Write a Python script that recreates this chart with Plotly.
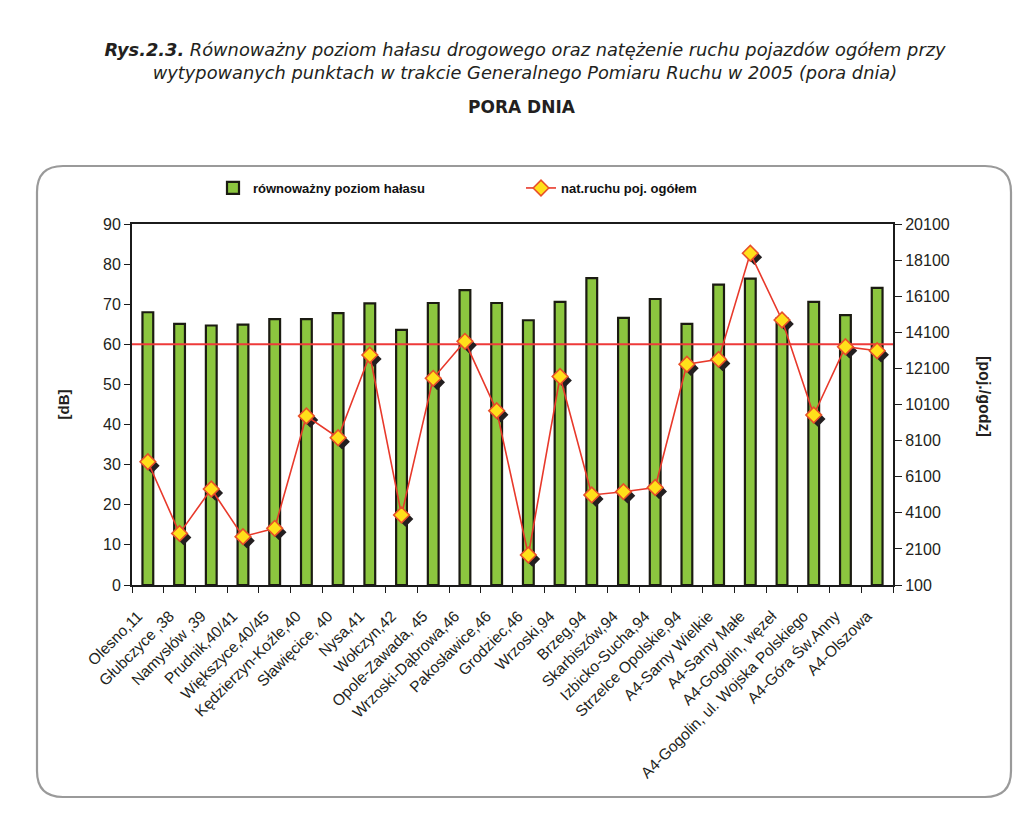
import plotly.graph_objects as go

# ---------------- data ----------------
categories = ["Olesno,11", "Głubczyce ,38", "Namysłów ,39", "Prudnik,40/41",
              "Większyce,40/45", "Kędzierzyn-Koźle,40", "Sławięcice, 40", "Nysa,41",
              "Wołczyn,42", "Opole-Zawada, 45", "Wrzoski-Dąbrowa,46", "Pakosławice,46",
              "Grodziec,46", "Wrzoski,94", "Brzeg,94", "Skarbiszów,94",
              "Izbicko-Sucha,94", "Strzelce Opolskie,94", "A4-Sarny Wielkie", "A4-Sarny Małe",
              "A4-Gogolin, węzeł", "A4-Gogolin, ul. Wojska Polskiego", "A4-Góra Św.Anny", "A4-Olszowa"]

noise_db = [68.0, 65.1, 64.7, 64.9, 66.3, 66.3, 67.8, 70.2,
            63.6, 70.3, 73.5, 70.3, 66.0, 70.6, 76.5, 66.6,
            71.3, 65.1, 74.9, 76.4, 66.5, 70.6, 67.3, 74.1]

traffic = [6930, 2960, 5420, 2780, 3240, 9460, 8260, 12840,
           3980, 11550, 13600, 9760, 1760, 11650, 5090, 5270,
           5500, 12330, 12600, 18480, 14780, 9520, 13300, 13080]

limit_db = 60
left_ticks = [0, 10, 20, 30, 40, 50, 60, 70, 80, 90]
right_ticks = [100, 2100, 4100, 6100, 8100, 10100, 12100, 14100, 16100, 18100, 20100]

# ---------------- layout geometry ----------------
W, H = 1022, 833
L, R, T, B = 132, 1022 - 893, 224, 833 - 585
pw, ph = W - L - R, H - T - B
n = len(categories)
shadow_px = 4
dx = shadow_px / (pw / n)
dy = shadow_px / ph * (right_ticks[-1] - right_ticks[0])


def px_x(p):
    return (p - L) / pw


def px_y(p):
    return (H - B - p) / ph


FONT = "Liberation Sans, Arial, sans-serif"
TFONT = "DejaVu Sans, sans-serif"
INK = "#231f20"

fig = go.Figure()

fig.add_trace(go.Bar(
    x=categories, y=noise_db, name="równoważny poziom hałasu",
    width=0.34, marker=dict(color="#8cc63f", line=dict(color="#1b1b12", width=2.2)),
    xaxis="x", yaxis="y",
))

# 60 dB threshold line (spans the full plot width)
fig.add_trace(go.Scatter(
    x=[0, 1], y=[limit_db, limit_db], mode="lines",
    line=dict(color="#ee3a3a", width=2), showlegend=False, hoverinfo="skip",
    xaxis="x2", yaxis="y",
))

# marker shadows
fig.add_trace(go.Scatter(
    x=categories, y=traffic, mode="markers",
    marker=dict(symbol="diamond", size=12, color="#231f20", line=dict(width=0)),
    showlegend=False, hoverinfo="skip", xaxis="x3", yaxis="y3",
))

fig.add_trace(go.Scatter(
    x=categories, y=traffic, mode="lines+markers", name="nat.ruchu poj. ogółem",
    line=dict(color="#e8392b", width=1.6),
    marker=dict(symbol="diamond", size=12, color="#ffe01a", line=dict(color="#e8502a", width=1.6)),
    xaxis="x4", yaxis="y2",
))

cat_range = [-0.5, n - 0.5]
fig.update_layout(
    width=W, height=H,
    margin=dict(l=L, r=R, t=T, b=B, autoexpand=False),
    paper_bgcolor="white", plot_bgcolor="white",
    font=dict(family=FONT, size=15, color=INK),
    title=dict(
        text="<b><i>Rys.2.3.</i></b><i> Równoważny poziom hałasu drogowego oraz natężenie ruchu pojazdów ogółem przy</i>"
             "<br><i>wytypowanych punktach w trakcie Generalnego Pomiaru Ruchu w 2005 (pora dnia)</i>",
        x=525 / W, xanchor="center", xref="container",
        y=1 - 56 / H, yanchor="middle", yref="container",
        font=dict(family=TFONT, size=17.8, color=INK),
    ),
    xaxis=dict(
        type="category", categoryorder="array", categoryarray=categories, range=cat_range,
        showline=True, linecolor="#1b1b1b", linewidth=2, mirror=True,
        ticks="outside", ticklen=6, tickwidth=1.3, tickcolor="#1b1b1b", tickson="boundaries",
        tickangle=-45, tickfont=dict(size=15.5), showgrid=False, zeroline=False,
        ticklabelstandoff=14, ticklabelshift=-10,
    ),
    xaxis2=dict(overlaying="x", range=[0, 1], visible=False, fixedrange=True),
    xaxis3=dict(type="category", categoryorder="array", categoryarray=categories,
                overlaying="x", range=[cat_range[0] - dx, cat_range[1] - dx], visible=False),
    xaxis4=dict(type="category", categoryorder="array", categoryarray=categories,
                overlaying="x", range=cat_range, visible=False),
    yaxis=dict(
        range=[left_ticks[0], left_ticks[-1]], tickvals=left_ticks,
        showline=True, linecolor="#1b1b1b", linewidth=2,
        ticks="outside", ticklen=6, tickwidth=1.3, tickcolor="#1b1b1b",
        showgrid=False, zeroline=False, tickfont=dict(size=16),
        title=dict(text="<b>[dB]</b>", font=dict(size=15), standoff=30),
    ),
    yaxis2=dict(
        overlaying="y", side="right", anchor="x",
        range=[right_ticks[0], right_ticks[-1]], tickvals=right_ticks,
        ticktext=[str(v) for v in right_ticks],
        showline=True, linecolor="#1b1b1b", linewidth=2,
        ticks="outside", ticklen=7, tickwidth=1.3, tickcolor="#1b1b1b",
        showgrid=False, zeroline=False, tickfont=dict(size=16),
    ),
    yaxis3=dict(overlaying="y", range=[right_ticks[0] + dy, right_ticks[-1] + dy], visible=False),
    legend=dict(
        orientation="h", x=px_x(213), xanchor="left", y=px_y(173), yanchor="top",
        font=dict(family=FONT, size=13, color="#111", weight="bold"),
        entrywidth=263, entrywidthmode="pixels", itemwidth=30,
        bgcolor="rgba(0,0,0,0)", traceorder="normal",
    ),
    showlegend=True,
)

# right axis title (reads top-to-bottom)
fig.add_annotation(
    text="<b>[poj./godz]</b>", xref="paper", yref="paper",
    x=px_x(985), y=px_y(397), xanchor="center", yanchor="middle",
    showarrow=False, textangle=90,
    font=dict(family=FONT, size=16, color=INK),
)

# sub-title
fig.add_annotation(
    text="<b>PORA DNIA</b>", xref="paper", yref="paper",
    x=px_x(522), y=px_y(107), xanchor="center", yanchor="middle", showarrow=False,
    font=dict(family=TFONT, size=17, color=INK),
)

# rounded frame around the chart
x0, x1 = px_x(37), px_x(1011)
yt, yb = px_y(166), px_y(797)
rx, ry = 26 / pw, 26 / ph
path = (f"M {x0+rx},{yt} L {x1-rx},{yt} Q {x1},{yt} {x1},{yt-ry} L {x1},{yb+ry} "
        f"Q {x1},{yb} {x1-rx},{yb} L {x0+rx},{yb} Q {x0},{yb} {x0},{yb+ry} "
        f"L {x0},{yt-ry} Q {x0},{yt} {x0+rx},{yt} Z")
fig.add_shape(type="path", path=path, xref="paper", yref="paper",
              line=dict(color="#9a9a9a", width=2.2), layer="below")

fig.write_html("out.html", config={"displayModeBar": False},
               post_script="document.body.style.margin='0';document.body.style.overflow='hidden';")
